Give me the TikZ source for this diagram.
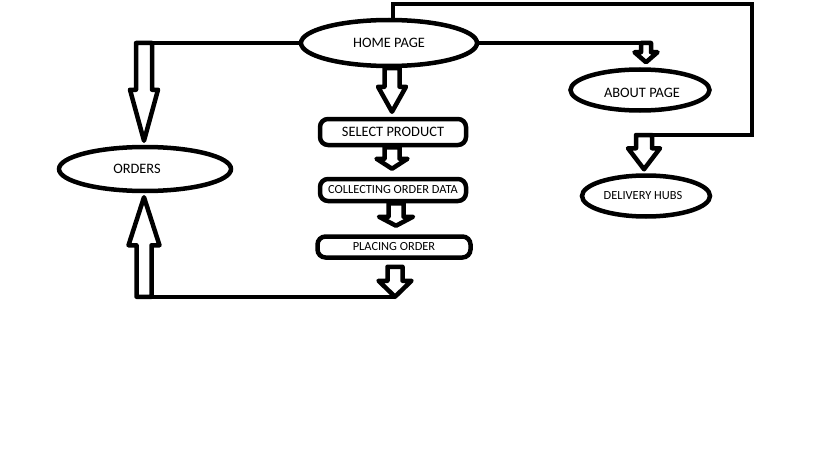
\documentclass[tikz,border=0pt]{standalone}
\usepackage{fontspec}
\setmainfont{Carlito}
\usetikzlibrary{shapes.geometric,calc}
\tikzset{
  ln/.style={line width=4.5pt, line join=miter},
  blk/.style={line width=4.5pt, line join=round, fill=white},
  bigfont/.style={font=\fontsize{14.4}{16}\selectfont},
  smallfont/.style={font=\fontsize{12.4}{14}\selectfont},
  ell/.style={ellipse, draw, line width=4.5pt, inner sep=0pt, bigfont},
  rbox/.style={rectangle, rounded corners=8pt, draw, line width=4.5pt, inner sep=0pt, bigfont}
}
% #1 start, #2 tip, #3 half shaft, #4 half head, #5 head length
\newcommand\blockarrow[5]{%
  \draw[blk] let \p1=#1, \p2=#2, \n1={sign(\y2-\y1)}, \n2={\y2-(\n1)*#5} in
    ({\x2-#3pt},{\y1}) -- ({\x2-#3pt},{\n2}) -- ({\x2-#4pt},{\n2}) --
    ({\x2},{\y2}) -- ({\x2+#4pt},{\n2}) -- ({\x2+#3pt},{\n2}) --
    ({\x2+#3pt},{\y1}) -- cycle;}
\begin{document}
\begin{tikzpicture}[x=1pt,y=-1pt]
\useasboundingbox[fill=white] (0,0) rectangle (819,460);

% nodes
\node[ell, minimum width=176pt, minimum height=46pt] (home) at (389,43) {HOME PAGE};
\node[ell, minimum width=172pt, minimum height=44pt,
      label={[bigfont,xshift=-8pt]center:ORDERS}] (orders) at (145,169) {};
\node[ell, minimum width=139pt, minimum height=41pt,
      label={[bigfont,xshift=2pt,yshift=-3pt]center:ABOUT PAGE}] (about) at (640,90) {};
\node[ell, smallfont, minimum width=128pt, minimum height=41pt,
      label={[smallfont,xshift=-3pt]center:DELIVERY HUBS}] (hubs) at (646,196) {};
\node[rbox, minimum width=146pt, minimum height=26pt] (sel) at (393,132) {SELECT PRODUCT};
\node[rbox, smallfont, minimum width=146pt, minimum height=22pt] (coll) at (393,190) {COLLECTING ORDER DATA};
\node[rbox, smallfont, minimum width=153pt, minimum height=21pt] (place) at (394,247) {PLACING ORDER};

% helper coordinates
\coordinate (t1) at ($(orders.north)+(-1,-4)$);
\coordinate (t6) at ($(orders.south)+(-1,4)$);
\coordinate (j1) at ($(place.south)+(1,37)$);
\coordinate (t7) at ($(about.north)+(6,-5)$);
\coordinate (k1) at (752,4);
\coordinate (k2) at (752,135);
\coordinate (t8) at ($(hubs.north)+(-2,-4)$);

% line connectors
\draw[ln] (home.west) -- ($(home.west -| t1)+(-8,0)$);
\draw[ln] (j1) -- ($(j1 -| t6)+(7.5,0)$);
\draw[ln] (home.east) -- ($(home.east -| t7)+(5,0)$);
\draw[ln] ($(home.north)+(4,0)$) |- (k1) -- (k2) -- ($(k2 -| t8)+(-8,0)$);

% block arrows
\blockarrow{(home.west)}{(t1)}{8}{14}{51}
\blockarrow{(home.south)}{($(sel.north)+(-1,-5)$)}{7.5}{14}{25}
\blockarrow{(sel.south)}{($(coll.north)+(-1,-8)$)}{7.5}{15.5}{10}
\blockarrow{(coll.south)}{($(place.north)+(2,-8.5)$)}{7.5}{17}{9}
\blockarrow{($(place.south)+(0,7)$)}{(j1)}{7.5}{16.5}{16}
\blockarrow{(j1)}{(t6)}{7.5}{15.5}{48}
\blockarrow{(home.east)}{(t7)}{5}{11.5}{10}
\blockarrow{(k2)}{(t8)}{8}{16}{21}
\end{tikzpicture}
\end{document}
